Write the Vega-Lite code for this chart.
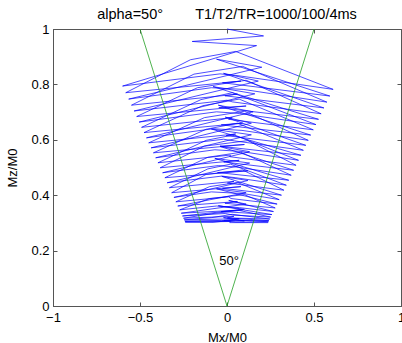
{
  "$schema": "https://vega.github.io/schema/vega-lite/v6.json",
  "width": 348,
  "height": 277,
  "autosize": {"type": "none"},
  "padding": {"left": 53, "top": 29, "right": 1, "bottom": 37},
  "background": "white",
  "config": {
    "font": "Liberation Sans",
    "view": {"stroke": "#555", "strokeWidth": 1},
    "axis": {"grid": false, "domainColor": "#555", "tickColor": "#555", "labelColor": "black", "titleColor": "black", "labelFontSize": 13, "titleFontSize": 13, "titleFontWeight": "normal", "labelFont": "Liberation Sans", "titleFont": "Liberation Sans", "tickSize": -4, "labelFlush": false}
  },
  "title": {"text": "\u00a0\u00a0\u00a0\u00a0\u00a0\u00a0\u00a0\u00a0\u00a0\u00a0\u00a0\u00a0\u00a0alpha=50°\u00a0\u00a0\u00a0\u00a0\u00a0\u00a0\u00a0\u00a0T1/T2/TR=1000/100/4ms", "anchor": "middle", "frame": "group", "offset": 1, "fontSize": 14.5, "fontWeight": "normal", "font": "Liberation Sans", "color": "black"},
  "datasets": {
    "traj": [
      {"i":0,"x":0,"y":1},{"i":1,"x":0.21,"y":0.975},{"i":2,"x":-0.2,"y":0.955},{"i":3,"x":0.17,"y":0.94},
      {"i":4,"x":-0.600,"y":0.794},{"i":5,"x":-0.04,"y":0.838},{"i":6,"x":0.058,"y":0.832},{"i":7,"x":0.610,"y":0.782},{"i":8,"x":0.05,"y":0.919},{"i":9,"x":-0.21,"y":0.889},
      {"i":10,"x":-0.582,"y":0.770},{"i":11,"x":0.08,"y":0.812},{"i":12,"x":-0.026,"y":0.806},{"i":13,"x":0.591,"y":0.758},{"i":14,"x":-0.06,"y":0.891},{"i":15,"x":0.20,"y":0.862},
      {"i":16,"x":-0.565,"y":0.747},{"i":17,"x":-0.09,"y":0.788},{"i":18,"x":0.093,"y":0.782},{"i":19,"x":0.574,"y":0.736},{"i":20,"x":0.09,"y":0.865},{"i":21,"x":-0.19,"y":0.837},
      {"i":22,"x":-0.549,"y":0.725},{"i":23,"x":0.06,"y":0.765},{"i":24,"x":-0.012,"y":0.759},{"i":25,"x":0.557,"y":0.715},{"i":26,"x":-0.02,"y":0.840},{"i":27,"x":0.18,"y":0.812},
      {"i":28,"x":-0.534,"y":0.704},{"i":29,"x":0.0,"y":0.743},{"i":30,"x":0.03,"y":0.737},{"i":31,"x":0.541,"y":0.694},{"i":32,"x":0.11,"y":0.815},{"i":33,"x":-0.17,"y":0.788},
      {"i":34,"x":-0.519,"y":0.684},{"i":35,"x":0.11,"y":0.722},{"i":36,"x":-0.047,"y":0.716},{"i":37,"x":0.526,"y":0.674},{"i":38,"x":-0.08,"y":0.792},{"i":39,"x":0.16,"y":0.766},
      {"i":40,"x":-0.505,"y":0.664},{"i":41,"x":-0.06,"y":0.701},{"i":42,"x":0.072,"y":0.695},{"i":43,"x":0.511,"y":0.655},{"i":44,"x":0.03,"y":0.770},{"i":45,"x":-0.15,"y":0.745},
      {"i":46,"x":-0.491,"y":0.645},{"i":47,"x":0.03,"y":0.680},{"i":48,"x":0.009,"y":0.674},{"i":49,"x":0.496,"y":0.636},{"i":50,"x":0.07,"y":0.747},{"i":51,"x":-0.14,"y":0.723},
      {"i":52,"x":-0.477,"y":0.626},{"i":53,"x":0.09,"y":0.660},{"i":54,"x":-0.033,"y":0.654},{"i":55,"x":0.481,"y":0.617},{"i":56,"x":-0.05,"y":0.725},{"i":57,"x":0.15,"y":0.701},
      {"i":58,"x":-0.463,"y":0.607},{"i":59,"x":-0.08,"y":0.640},{"i":60,"x":0.086,"y":0.634},{"i":61,"x":0.467,"y":0.598},{"i":62,"x":0.10,"y":0.703},{"i":63,"x":-0.13,"y":0.680},
      {"i":64,"x":-0.450,"y":0.589},{"i":65,"x":0.05,"y":0.621},{"i":66,"x":-0.005,"y":0.615},{"i":67,"x":0.453,"y":0.580},{"i":68,"x":-0.01,"y":0.682},{"i":69,"x":0.14,"y":0.660},
      {"i":70,"x":-0.436,"y":0.571},{"i":71,"x":-0.02,"y":0.602},{"i":72,"x":0.044,"y":0.596},{"i":73,"x":0.439,"y":0.562},{"i":74,"x":0.06,"y":0.660},{"i":75,"x":-0.12,"y":0.638},
      {"i":76,"x":-0.423,"y":0.553},{"i":77,"x":0.10,"y":0.583},{"i":78,"x":-0.04,"y":0.577},{"i":79,"x":0.425,"y":0.544},{"i":80,"x":-0.09,"y":0.639},{"i":81,"x":0.14,"y":0.618},
      {"i":82,"x":-0.410,"y":0.535},{"i":83,"x":-0.07,"y":0.564},{"i":84,"x":0.079,"y":0.558},{"i":85,"x":0.411,"y":0.526},{"i":86,"x":0.04,"y":0.618},{"i":87,"x":-0.12,"y":0.598},
      {"i":88,"x":-0.397,"y":0.517},{"i":89,"x":0.02,"y":0.545},{"i":90,"x":0.016,"y":0.539},{"i":91,"x":0.397,"y":0.508},{"i":92,"x":0.12,"y":0.597},{"i":93,"x":-0.13,"y":0.577},
      {"i":94,"x":-0.384,"y":0.499},{"i":95,"x":0.07,"y":0.526},{"i":96,"x":-0.019,"y":0.520},{"i":97,"x":0.383,"y":0.490},{"i":98,"x":-0.04,"y":0.576},{"i":99,"x":0.13,"y":0.557},
      {"i":100,"x":-0.370,"y":0.481},{"i":101,"x":-0.05,"y":0.507},{"i":102,"x":0.065,"y":0.501},{"i":103,"x":0.369,"y":0.472},{"i":104,"x":0.08,"y":0.555},{"i":105,"x":-0.11,"y":0.537},
      {"i":106,"x":-0.357,"y":0.463},{"i":107,"x":0.12,"y":0.488},{"i":108,"x":-0.054,"y":0.482},{"i":109,"x":0.355,"y":0.454},{"i":110,"x":-0.07,"y":0.533},{"i":111,"x":0.13,"y":0.516},
      {"i":112,"x":-0.344,"y":0.445},{"i":113,"x":-0.03,"y":0.469},{"i":114,"x":0.051,"y":0.463},{"i":115,"x":0.341,"y":0.436},{"i":116,"x":0.02,"y":0.512},{"i":117,"x":-0.11,"y":0.495},
      {"i":118,"x":-0.331,"y":0.427},{"i":119,"x":0.04,"y":0.450},{"i":120,"x":0.002,"y":0.444},{"i":121,"x":0.327,"y":0.418},{"i":122,"x":0.09,"y":0.491},{"i":123,"x":-0.12,"y":0.475},
      {"i":124,"x":-0.318,"y":0.409},{"i":125,"x":0.08,"y":0.431},{"i":126,"x":-0.026,"y":0.425},{"i":127,"x":0.313,"y":0.400},{"i":128,"x":-0.03,"y":0.468},{"i":129,"x":0.12,"y":0.453},
      {"i":130,"x":-0.305,"y":0.392},{"i":131,"x":-0.09,"y":0.412},{"i":132,"x":0.093,"y":0.406},{"i":133,"x":0.300,"y":0.384},{"i":134,"x":0.06,"y":0.446},{"i":135,"x":-0.10,"y":0.431},
      {"i":136,"x":-0.294,"y":0.376},{"i":137,"x":0.01,"y":0.394},{"i":138,"x":0.023,"y":0.388},{"i":139,"x":0.288,"y":0.368},{"i":140,"x":-0.06,"y":0.423},{"i":141,"x":0.11,"y":0.409},
      {"i":142,"x":-0.283,"y":0.361},{"i":143,"x":0.06,"y":0.377},{"i":144,"x":-0.012,"y":0.371},{"i":145,"x":0.277,"y":0.354},{"i":146,"x":0.10,"y":0.402},{"i":147,"x":-0.10,"y":0.388},
      {"i":148,"x":-0.272,"y":0.347},{"i":149,"x":-0.06,"y":0.361},{"i":150,"x":0.072,"y":0.355},{"i":151,"x":0.267,"y":0.341},{"i":152,"x":0.01,"y":0.381},{"i":153,"x":0.11,"y":0.368},
      {"i":154,"x":-0.263,"y":0.335},{"i":155,"x":0.09,"y":0.347},{"i":156,"x":-0.033,"y":0.341},{"i":157,"x":0.258,"y":0.330},{"i":158,"x":-0.05,"y":0.362},{"i":159,"x":0.10,"y":0.349},
      {"i":160,"x":-0.256,"y":0.325},{"i":161,"x":-0.01,"y":0.334},{"i":162,"x":0.037,"y":0.328},{"i":163,"x":0.251,"y":0.321},{"i":164,"x":0.07,"y":0.345},{"i":165,"x":-0.09,"y":0.333},
      {"i":166,"x":-0.250,"y":0.317},{"i":167,"x":0.04,"y":0.324},{"i":168,"x":0.002,"y":0.318},{"i":169,"x":0.246,"y":0.314},{"i":170,"x":0.03,"y":0.331},{"i":171,"x":-0.09,"y":0.319},
      {"i":172,"x":-0.246,"y":0.311},{"i":173,"x":0.07,"y":0.315},{"i":174,"x":-0.019,"y":0.309},{"i":175,"x":0.241,"y":0.308},{"i":176,"x":-0.02,"y":0.319},{"i":177,"x":0.10,"y":0.307},
      {"i":178,"x":-0.242,"y":0.306},{"i":179,"x":-0.03,"y":0.309},{"i":180,"x":0.051,"y":0.303},{"i":181,"x":0.238,"y":0.304},{"i":182,"x":0.05,"y":0.311},{"i":183,"x":-0.08,"y":0.302},
      {"i":184,"x":-0.240,"y":0.303},{"i":185,"x":0.02,"y":0.305},{"i":186,"x":0.016,"y":0.301},{"i":187,"x":0.236,"y":0.301}
    ],
    "cone": [
      {"i":0,"x":-0.5,"y":1},{"i":1,"x":0,"y":0},{"i":2,"x":0.5,"y":1}
    ],
    "label": [
      {"x":0.012,"y":0.162,"t":"50°"}
    ]
  },
  "layer": [
    {
      "data": {"name": "traj"},
      "mark": {"type": "line", "color": "#0000ff", "strokeWidth": 0.7},
      "encoding": {
        "x": {"field": "x", "type": "quantitative", "scale": {"domain": [-1, 1], "nice": false}, "axis": {"values": [-1, -0.5, 0, 0.5, 1], "title": "Mx/M0", "labelPadding": 9, "titlePadding": 7, "format": "~g"}},
        "y": {"field": "y", "type": "quantitative", "scale": {"domain": [0, 1], "nice": false}, "axis": {"values": [0, 0.2, 0.4, 0.6, 0.8, 1], "title": "Mz/M0", "labelPadding": 8, "titlePadding": 11, "format": "~g"}},
        "order": {"field": "i", "type": "quantitative"}
      }
    },
    {
      "data": {"name": "cone"},
      "mark": {"type": "line", "color": "#22a022", "strokeWidth": 0.8},
      "encoding": {
        "x": {"field": "x", "type": "quantitative", "axis": {"orient": "top", "values": [-1, -0.5, 0, 0.5, 1], "labels": false, "title": null, "domain": false}},
        "y": {"field": "y", "type": "quantitative", "axis": {"orient": "right", "values": [0, 0.2, 0.4, 0.6, 0.8, 1], "labels": false, "title": null, "domain": false}},
        "order": {"field": "i", "type": "quantitative"}
      }
    },
    {
      "data": {"name": "label"},
      "mark": {"type": "text", "fontSize": 13, "font": "Liberation Sans", "color": "black"},
      "encoding": {
        "x": {"field": "x", "type": "quantitative", "axis": null},
        "y": {"field": "y", "type": "quantitative", "axis": null},
        "text": {"field": "t"}
      }
    }
  ],
  "resolve": {"axis": {"x": "independent", "y": "independent"}}
}
